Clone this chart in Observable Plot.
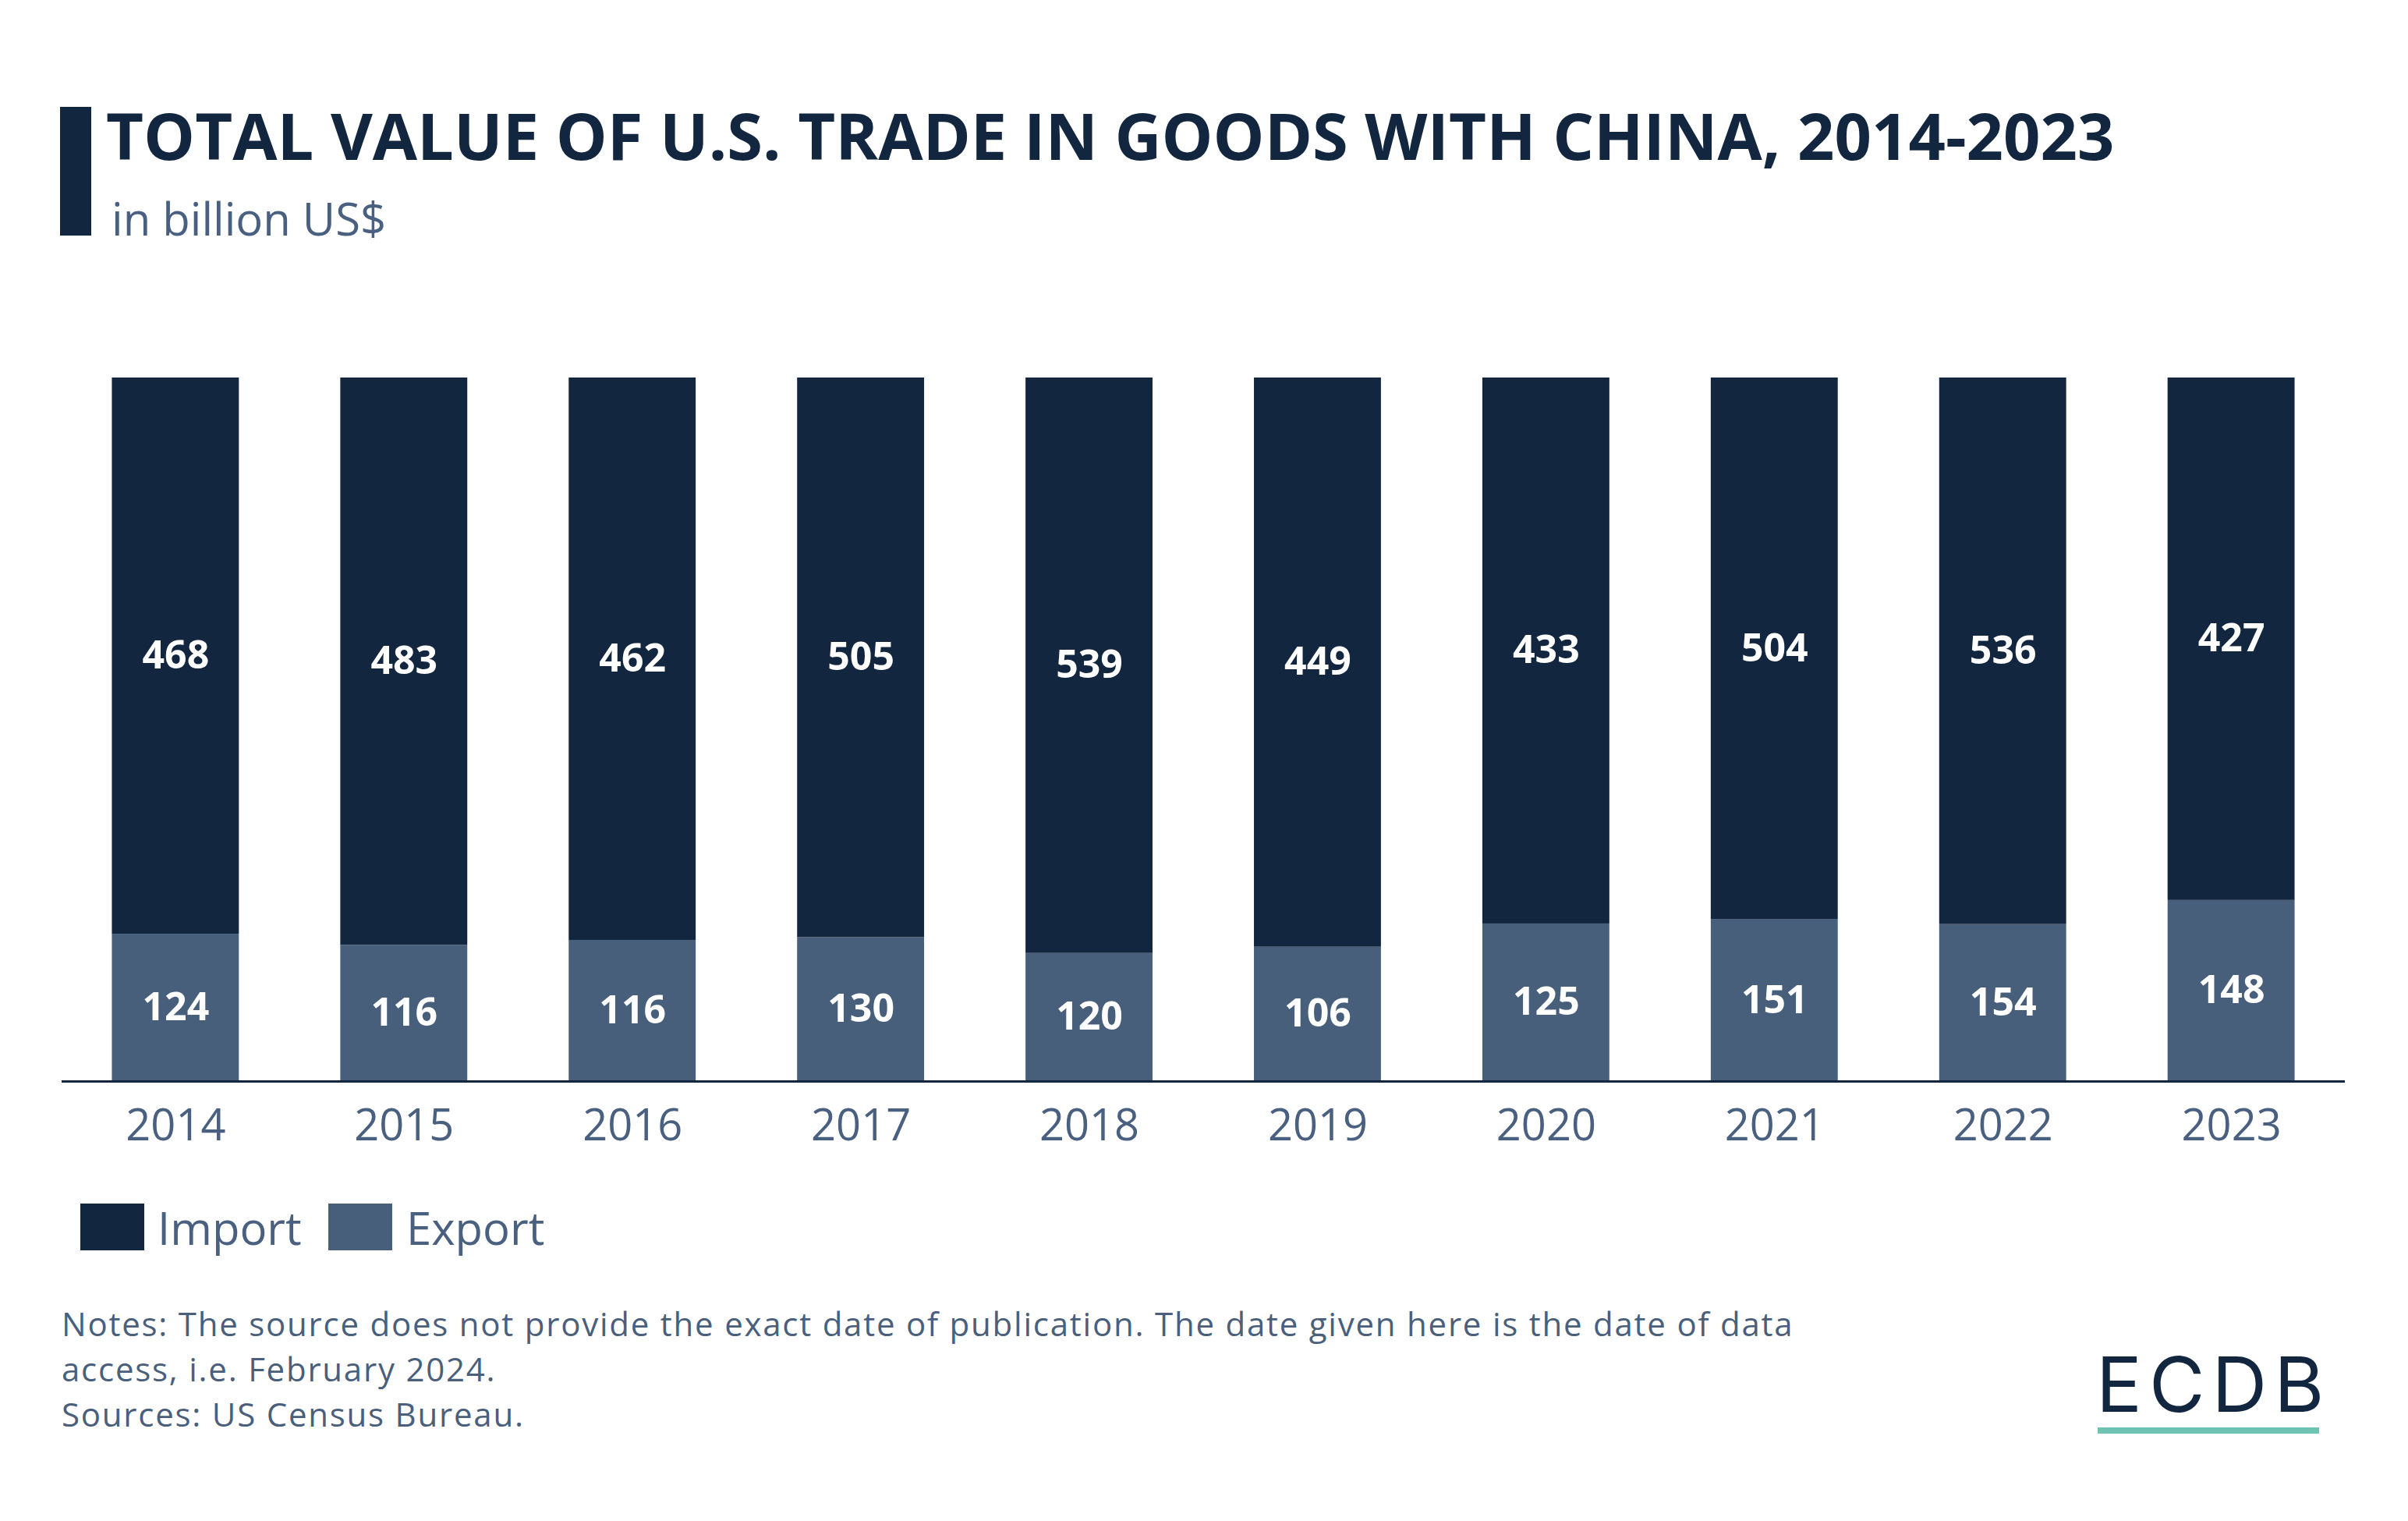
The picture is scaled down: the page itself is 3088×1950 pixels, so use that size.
<!DOCTYPE html>
<html>
<head>
<meta charset="utf-8">
<script src="https://cdn.jsdelivr.net/npm/d3@7"></script>
<script src="https://cdn.jsdelivr.net/npm/@observablehq/plot@0.6"></script>
<style>
  html, body { margin: 0; padding: 0; background: #fff; }
  #page { position: relative; width: 3088px; height: 1950px; background: #fff; font-family: "Open Sans", sans-serif; overflow: hidden; }
  .abs { position: absolute; white-space: nowrap; }
  #accent { left: 77px; top: 137px; width: 40px; height: 165px; background: #12263f; }
  #title { left: 136px; top: 131px; font-size: 83px; line-height: 83px; font-weight: 700; color: #12263f; }
  #subtitle { left: 143px; top: 251px; font-size: 58px; line-height: 58px; color: #4a6080; }
  #chart { left: 0; top: 400px; }
  .sw { width: 82px; height: 60px; }
  .lg { font-size: 58px; line-height: 58px; color: #4a6080; }
  #notes { left: 0; top: 1660px; }
  #logo { left: 2688px; top: 1726px; font-family: Inter, sans-serif; font-size: 98px; line-height: 98px; color: #12263f; letter-spacing: 9px; }
  #logoline { left: 2690px; top: 1830px; width: 284px; height: 8px; background: #6fc3b2; }
</style>
</head>
<body>
<div id="page">
  <div class="abs" id="accent"></div>
  <div class="abs" id="title">TOTAL VALUE OF U.S. TRADE IN GOODS WITH CHINA, 2014-2023</div>
  <div class="abs" id="subtitle">in billion US$</div>
  <div class="abs" id="chart"></div>
  <div class="abs sw" style="left:103px;top:1543px;background:#12263f"></div>
  <div class="abs lg" style="left:202px;top:1545px">Import</div>
  <div class="abs sw" style="left:421px;top:1543px;background:#475f7b"></div>
  <div class="abs lg" style="left:521px;top:1545px">Export</div>
  <svg class="abs" id="notes" width="2600" height="200" xmlns="http://www.w3.org/2000/svg">
    <g font-family="Open Sans, sans-serif" font-size="42" letter-spacing="1.77" fill="#4a5f7c">
      <text x="79" y="53">Notes: The source does not provide the exact date of publication. The date given here is the date of data</text>
      <text x="79" y="111">access, i.e. February 2024.</text>
      <text x="79" y="169">Sources: US Census Bureau.</text>
    </g>
  </svg>
  <div class="abs" id="logo">ECDB</div>
  <div class="abs" id="logoline"></div>
</div>
<script>
const years = ["2014","2015","2016","2017","2018","2019","2020","2021","2022","2023"];
const importValues = [468, 483, 462, 505, 539, 449, 433, 504, 536, 427];
const exportValues = [124, 116, 116, 130, 120, 106, 125, 151, 154, 148];
const seriesNames = ["Export", "Import"];
const seriesColors = ["#475f7b", "#12263f"];

const data = [];
years.forEach((y, i) => data.push({year: y, type: "Export", value: exportValues[i]}));
years.forEach((y, i) => data.push({year: y, type: "Import", value: importValues[i]}));

const chart = Plot.plot({
  width: 3088,
  height: 1100,
  marginLeft: 79,
  marginRight: 81,
  marginTop: 84,
  marginBottom: 114,
  style: { background: "transparent", fontFamily: "Open Sans, sans-serif", fontSize: "56px", color: "#4a6080" },
  x: { type: "band", domain: years, paddingInner: 0.444, paddingOuter: 0.22, round: false, label: null, tickSize: 0, tickPadding: 36 },
  y: { axis: null, domain: [0, 1] },
  color: { domain: seriesNames, range: seriesColors },
  marks: [
    Plot.barY(data, Plot.stackY({ x: "year", y: "value", z: "type", fill: "type", offset: "normalize" })),
    Plot.text(data, Plot.stackY({ x: "year", y: "value", z: "type", offset: "normalize", text: d => String(d.value), fill: "white", fontSize: 50, fontWeight: 700 })),
    Plot.ruleY([0], { stroke: "#12263f", strokeWidth: 3 })
  ]
});
document.getElementById("chart").appendChild(chart);
</script>
</body>
</html>
